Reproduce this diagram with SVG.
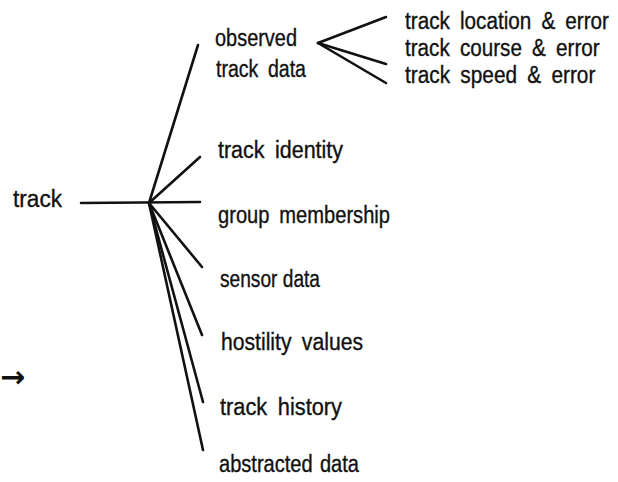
<svg xmlns="http://www.w3.org/2000/svg" width="618" height="482" viewBox="0 0 618 482">
<style>
.t{font-family:"Liberation Sans",Arial,sans-serif;font-size:23.5px;fill:#111;word-spacing:5px;stroke:#111;stroke-width:0.35}
.c line{stroke:#111;stroke-width:2.6;stroke-linecap:round}
</style>
<rect width="618" height="482" fill="#fff"/>
<g class="c" id="connectors">
<line x1="81" y1="203" x2="200" y2="202"/>
<line x1="149" y1="203" x2="198" y2="45"/>
<line x1="149" y1="203" x2="200" y2="157"/>
<line x1="149" y1="203" x2="202" y2="267"/>
<line x1="149" y1="203" x2="202" y2="335"/>
<line x1="149" y1="203" x2="203" y2="402"/>
<line x1="149" y1="203" x2="203" y2="450"/>
<line x1="318" y1="43" x2="386" y2="17"/>
<line x1="318" y1="43" x2="386" y2="64"/>
<line x1="318" y1="43" x2="386" y2="83"/>
</g>
<g id="track"><text class="t" x="13" y="207" textLength="49" lengthAdjust="spacingAndGlyphs">track</text></g>
<g id="observed"><text class="t" x="215" y="46" textLength="82" lengthAdjust="spacingAndGlyphs">observed</text><text class="t" x="216" y="77" textLength="90" lengthAdjust="spacingAndGlyphs">track data</text></g>
<g id="location" transform="translate(405,29) scale(0.85,1)"><text class="t" x="0" y="0" textLength="240" lengthAdjust="spacingAndGlyphs">track location &amp; error</text></g>
<g id="course" transform="translate(405,56) scale(0.85,1)"><text class="t" x="0" y="0" textLength="229" lengthAdjust="spacingAndGlyphs">track course &amp; error</text></g>
<g id="speed" transform="translate(405,83) scale(0.85,1)"><text class="t" x="0" y="0" textLength="224" lengthAdjust="spacingAndGlyphs">track speed &amp; error</text></g>
<g id="identity"><text class="t" x="218" y="158" textLength="125" lengthAdjust="spacingAndGlyphs">track identity</text></g>
<g id="group"><text class="t" x="218" y="223" textLength="172" lengthAdjust="spacingAndGlyphs">group membership</text></g>
<g id="sensor"><text class="t" x="220" y="287" textLength="100" lengthAdjust="spacingAndGlyphs" style="word-spacing:0">sensor data</text></g>
<g id="hostility"><text class="t" x="221" y="350" textLength="142" lengthAdjust="spacingAndGlyphs">hostility values</text></g>
<g id="history"><text class="t" x="220" y="415" textLength="122" lengthAdjust="spacingAndGlyphs">track history</text></g>
<g id="abstracted"><text class="t" x="219" y="472" textLength="140" lengthAdjust="spacingAndGlyphs" style="word-spacing:2px">abstracted data</text></g>
<g id="arrow"><text x="0" y="387" style="font-family:'DejaVu Sans',sans-serif;font-size:30px;font-weight:bold;fill:#111">→</text></g>
</svg>
